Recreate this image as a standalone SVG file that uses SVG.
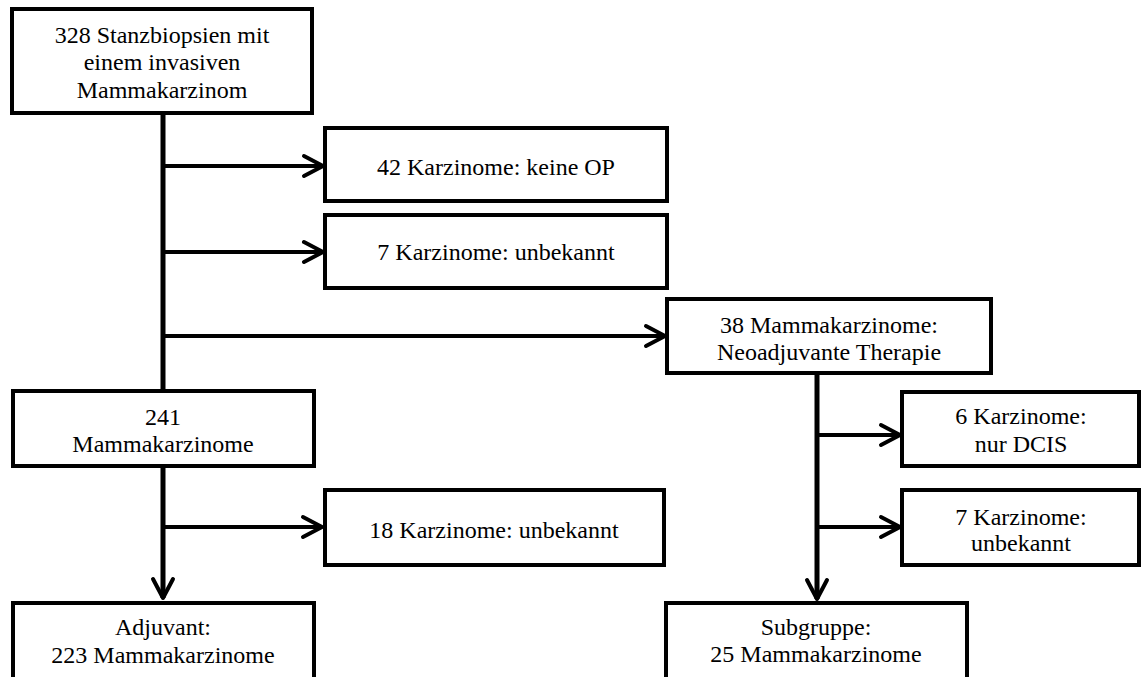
<svg xmlns="http://www.w3.org/2000/svg" width="1141" height="677" viewBox="0 0 1141 677">
<style>
.box{fill:#fff;stroke:#000;stroke-width:4}
.t{font-family:"Liberation Serif","Times New Roman",serif;font-size:24px;fill:#000;text-anchor:middle}
.trunk{stroke:#000;stroke-width:5;fill:none}
.br{stroke:#000;stroke-width:4;fill:none}
</style>
<defs>
<marker id="ah" markerUnits="userSpaceOnUse" markerWidth="40" markerHeight="40" viewBox="-30 -20 40 40" refX="0" refY="0" orient="auto">
<path d="M-19,-10 L0,0 L-19,10" fill="none" stroke="#000" stroke-width="4" stroke-linecap="round" stroke-linejoin="round"/>
</marker>
</defs>
<rect width="1141" height="677" fill="#fff"/>
<g id="connectors">
<line class="trunk" x1="163" y1="112" x2="163" y2="391"/>
<line class="br" x1="163" y1="166" x2="323" y2="166" marker-end="url(#ah)"/>
<line class="br" x1="163" y1="252" x2="323" y2="252" marker-end="url(#ah)"/>
<line class="br" x1="163" y1="336" x2="665" y2="336" marker-end="url(#ah)"/>
<line class="trunk" x1="163" y1="467" x2="163" y2="598" marker-end="url(#ah)"/>
<line class="br" x1="163" y1="527" x2="322" y2="527" marker-end="url(#ah)"/>
<line class="trunk" x1="817" y1="374" x2="817" y2="599" marker-end="url(#ah)"/>
<line class="br" x1="817" y1="435" x2="900" y2="435" marker-end="url(#ah)"/>
<line class="br" x1="817" y1="527" x2="900" y2="527" marker-end="url(#ah)"/>
</g>
<g id="n_start">
<rect class="box" x="12" y="9" width="300" height="104"/>
<text class="t" x="162" y="42.5">328 Stanzbiopsien mit</text>
<text class="t" x="162" y="70">einem invasiven</text>
<text class="t" x="162" y="97.5">Mammakarzinom</text>
</g>
<g id="n_keineop">
<rect class="box" x="325" y="128" width="342" height="73"/>
<text class="t" x="496" y="175">42 Karzinome: keine OP</text>
</g>
<g id="n_unbekannt7">
<rect class="box" x="325" y="215" width="342" height="73"/>
<text class="t" x="496" y="260">7 Karzinome: unbekannt</text>
</g>
<g id="n_neo">
<rect class="box" x="667" y="299" width="324" height="74"/>
<text class="t" x="829" y="333">38 Mammakarzinome:</text>
<text class="t" x="829" y="360">Neoadjuvante Therapie</text>
</g>
<g id="n_241">
<rect class="box" x="13" y="391" width="301" height="75"/>
<text class="t" x="163" y="425">241</text>
<text class="t" x="163" y="452">Mammakarzinome</text>
</g>
<g id="n_unbekannt18">
<rect class="box" x="325" y="490" width="339" height="75"/>
<text class="t" x="494" y="538">18 Karzinome: unbekannt</text>
</g>
<g id="n_adjuvant">
<rect class="box" x="13" y="603" width="301" height="80"/>
<text class="t" x="163" y="635">Adjuvant:</text>
<text class="t" x="163" y="663">223 Mammakarzinome</text>
</g>
<g id="n_dcis">
<rect class="box" x="902" y="392" width="237" height="74"/>
<text class="t" x="1021" y="424">6 Karzinome:</text>
<text class="t" x="1021" y="452">nur DCIS</text>
</g>
<g id="n_unbekannt7b">
<rect class="box" x="902" y="490" width="237" height="75"/>
<text class="t" x="1021" y="525">7 Karzinome:</text>
<text class="t" x="1021" y="551">unbekannt</text>
</g>
<g id="n_subgruppe">
<rect class="box" x="666" y="603" width="301" height="80"/>
<text class="t" x="816" y="635">Subgruppe:</text>
<text class="t" x="816" y="662">25 Mammakarzinome</text>
</g>
</svg>
